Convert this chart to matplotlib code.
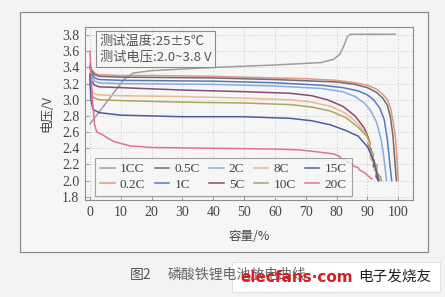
import matplotlib
matplotlib.use("Agg")
import matplotlib.pyplot as plt
from matplotlib.patches import Rectangle

plt.rcParams['font.family'] = ['Liberation Serif', 'Noto Sans CJK SC', 'DejaVu Sans']

# ---------------- data ----------------
x_ticks = [0, 10, 20, 30, 40, 50, 60, 70, 80, 90, 100]
y_ticks = [1.8, 2.0, 2.2, 2.4, 2.6, 2.8, 3.0, 3.2, 3.4, 3.6, 3.8]

cap_1CC = [0, 2, 5, 8, 11, 14, 20, 40, 60, 75, 79, 81, 82.5, 83.5, 84.5, 99]
v_1CC = [2.70, 2.80, 2.95, 3.10, 3.25, 3.33, 3.36, 3.40, 3.43, 3.46, 3.50, 3.56, 3.68, 3.78, 3.81, 3.81]

cap_02C = [0, 0.5, 1.5, 3, 10, 20, 40, 60, 70, 80, 86, 90, 93, 95, 96.5, 97.5, 98.4, 99.2, 99.7, 100]
v_02C = [3.45, 3.38, 3.33, 3.31, 3.30, 3.30, 3.29, 3.27, 3.26, 3.24, 3.21, 3.18, 3.13, 3.07, 3.00, 2.90, 2.72, 2.50, 2.20, 2.00]

cap_05C = [0, 0.5, 1.5, 3, 10, 40, 60, 80, 86, 90, 93, 95, 96.5, 97.5, 98.3, 99.0, 99.4]
v_05C = [3.42, 3.36, 3.31, 3.29, 3.28, 3.27, 3.25, 3.22, 3.19, 3.15, 3.09, 3.02, 2.93, 2.78, 2.55, 2.20, 2.00]

cap_1C = [0, 0.5, 1.5, 3, 10, 40, 60, 75, 82, 87, 90, 92, 94, 95.5, 96.5, 97.3, 97.9]
v_1C = [3.40, 3.33, 3.27, 3.25, 3.24, 3.23, 3.21, 3.18, 3.15, 3.11, 3.06, 3.00, 2.90, 2.75, 2.50, 2.20, 2.00]

cap_2C = [0, 0.5, 1.5, 3, 10, 40, 60, 75, 82, 86, 89, 91, 93, 94.5, 95.3, 96.0, 96.2]
v_2C = [3.38, 3.30, 3.23, 3.21, 3.20, 3.19, 3.17, 3.14, 3.10, 3.04, 2.96, 2.87, 2.72, 2.50, 2.30, 2.08, 2.00]

cap_5C = [0, 0.5, 1.5, 3, 10, 30, 50, 65, 72, 77, 82, 86, 89, 89.8, 90.6, 90.2, 91.3, 91.0, 92.2, 91.9, 93.0, 92.8, 93.5]
v_5C = [3.32, 3.24, 3.18, 3.16, 3.15, 3.12, 3.10, 3.08, 3.05, 3.00, 2.92, 2.80, 2.65, 2.58, 2.50, 2.45, 2.38, 2.30, 2.25, 2.18, 2.12, 2.05, 2.00]

cap_8C = [0, 0.5, 1.5, 3, 10, 30, 50, 65, 72, 78, 83, 87, 89.5, 90.5, 90.0, 91.5, 91.0, 92.5, 92.2, 93.6, 94.0]
v_8C = [3.25, 3.12, 3.07, 3.06, 3.05, 3.04, 3.02, 3.00, 2.97, 2.92, 2.83, 2.70, 2.58, 2.48, 2.42, 2.35, 2.27, 2.20, 2.13, 2.06, 2.00]

cap_10C = [0, 0.5, 1.5, 3, 10, 30, 50, 65, 72, 78, 83, 87, 89.8, 91.0, 90.6, 92.0, 91.7, 93.2, 92.9, 94.3, 94.6]
v_10C = [3.20, 3.06, 3.02, 3.00, 2.99, 2.97, 2.96, 2.94, 2.91, 2.86, 2.78, 2.66, 2.55, 2.47, 2.40, 2.33, 2.26, 2.18, 2.11, 2.04, 2.00]

cap_15C = [0, 0.3, 1, 3, 10, 30, 50, 65, 72, 78, 83, 87, 90, 91.5, 92.5, 93.2, 93.7]
v_15C = [3.30, 3.00, 2.88, 2.84, 2.81, 2.79, 2.79, 2.77, 2.74, 2.69, 2.62, 2.55, 2.42, 2.30, 2.18, 2.07, 2.00]

cap_20C = [0, 0.3, 0.8, 1.5, 2.2, 4, 6, 8, 10, 13, 20, 40, 60, 68, 75, 79, 81, 81.5, 83, 83.5, 85, 85.5, 87, 87.5, 89, 90.5, 91.5]
v_20C = [3.60, 3.40, 3.00, 2.70, 2.60, 2.57, 2.52, 2.48, 2.46, 2.43, 2.41, 2.40, 2.39, 2.38, 2.35, 2.33, 2.30, 2.27, 2.26, 2.23, 2.21, 2.18, 2.16, 2.13, 2.10, 2.05, 2.02]

labels = ['1CC', '0.2C', '0.5C', '1C', '2C', '5C', '8C', '10C', '15C', '20C']
caps = [cap_1CC, cap_02C, cap_05C, cap_1C, cap_2C, cap_5C, cap_8C, cap_10C, cap_15C, cap_20C]
volts = [v_1CC, v_02C, v_05C, v_1C, v_2C, v_5C, v_8C, v_10C, v_15C, v_20C]
colors = ['#a49c9c', '#e4967e', '#6c6c74', '#5a78b8', '#86aedc', '#8a4c6c',
          '#ecb88e', '#aaa662', '#4e5c9e', '#e27294']

# ---------------- figure ----------------
fig = plt.figure(figsize=(4.45, 2.97), dpi=100)
fig.patch.set_facecolor('#f3f3f3')

# outer panel (drawn behind the axes)
panel = Rectangle((20 / 445, 1 - 252 / 297), (428 - 20) / 445, (252 - 12) / 297,
                  transform=fig.transFigure, facecolor='#f6f6f6', edgecolor='#8c8c8c',
                  linewidth=0.9, zorder=-5)
fig.patches.append(panel)

ax = fig.add_axes([85 / 445, 1 - 200 / 297, (413 - 85) / 445, (200 - 27) / 297])
ax.set_zorder(1)
ax.set_facecolor('#f6f6f6')

for c, v, lab, col in zip(caps, volts, labels, colors):
    ax.plot(c, v, color=col, lw=1.1, label=lab)

ax.set_xlim(-1.6, 104.8)
ax.set_ylim(1.76, 3.9)
ax.set_xticks(x_ticks)
ax.set_yticks(y_ticks)
ax.set_xticklabels([str(t) for t in x_ticks])
ax.set_yticklabels(['%.1f' % t for t in y_ticks])
ax.tick_params(direction='in', length=3, width=0.6, colors='#8c8c8c',
               labelcolor='#444444', labelsize=10, pad=4)
ax.grid(True, linestyle=(0, (1, 2)), color='#c8c8c8', linewidth=0.7)
for s in ax.spines.values():
    s.set_color('#8c8c8c')
    s.set_linewidth(0.8)

ax.set_xlabel('容量/%', fontsize=9, color='#444444', family=['Noto Sans CJK SC', 'DejaVu Sans'], labelpad=8)
ax.set_ylabel('电压/V', fontsize=9, color='#444444', family=['Noto Sans CJK SC', 'DejaVu Sans'], labelpad=6)

leg = ax.legend(loc='lower left', bbox_to_anchor=(0.03, 0.023), ncol=5, fontsize=9.5,
                frameon=True, fancybox=False, borderaxespad=0, handlelength=1.1,
                handletextpad=0.4, columnspacing=0.7, labelspacing=0.25, borderpad=0.4)
leg.get_frame().set_edgecolor('#8c8c8c')
leg.get_frame().set_facecolor('#f6f6f6')
leg.get_frame().set_linewidth(0.8)
for t in leg.get_texts():
    t.set_color('#444444')

ax.text(0.045, 0.955, '测试温度:25±5℃\n测试电压:2.0~3.8 V', transform=ax.transAxes,
        va='top', ha='left', fontsize=9.5, color='#555555', linespacing=1.25,
        family=['Noto Sans CJK SC', 'DejaVu Sans'],
        bbox=dict(boxstyle='square,pad=0.25', facecolor='#f6f6f6', edgecolor='#8c8c8c', linewidth=0.8))

# caption
fig.text(130 / 445, 1 - 275 / 297, '图2', fontsize=10, color='#555555', va='center',
         family=['Noto Sans CJK SC', 'DejaVu Sans'])
fig.text(168 / 445, 1 - 275 / 297, '磷酸铁锂电池放电曲线', fontsize=10, color='#666666', va='center',
         family=['Noto Sans CJK SC', 'DejaVu Sans'])

# watermark
wm = Rectangle((232 / 445, 1 - 292 / 297), (440 - 232) / 445, (292 - 262) / 297,
               transform=fig.transFigure, facecolor='white', edgecolor='#dddddd', linewidth=0.6, zorder=3)
fig.patches.append(wm)
fig.text(240 / 445, 1 - 277 / 297, 'elecfans·com', fontsize=11, fontweight='bold', color='#d42020',
         va='center', family=['DejaVu Sans'], zorder=4)
fig.text(358 / 445, 1 - 277 / 297, '电子发烧友', fontsize=10.5, color='#222222', va='center',
         family=['Noto Sans CJK SC', 'DejaVu Sans'], zorder=4)

fig.savefig('out.png', dpi=100, facecolor=fig.get_facecolor())
